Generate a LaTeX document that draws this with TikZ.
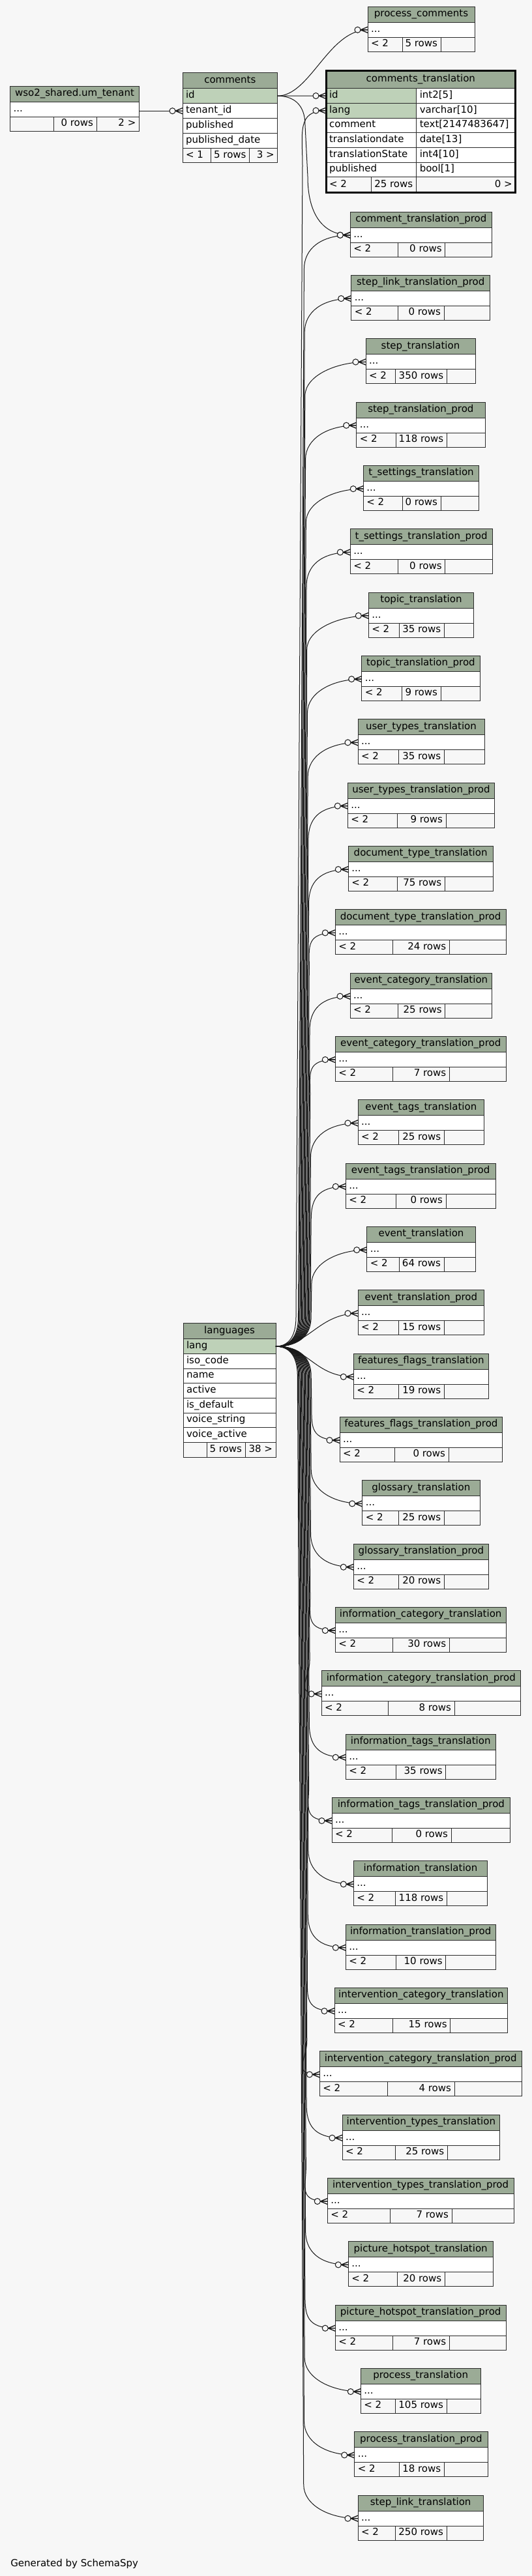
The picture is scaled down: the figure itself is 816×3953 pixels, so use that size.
\documentclass[tikz,border=0pt]{standalone}
\usepackage{fontspec}
\setmainfont{DejaVu Sans}
\usetikzlibrary{calc}
\definecolor{bgc}{HTML}{F7F7F7}
\definecolor{hdc}{HTML}{9BAB96}
\definecolor{kyc}{HTML}{BED1B8}
\definecolor{bdc}{HTML}{2B2B2B}
\tikzset{
  cell/.style={draw=bdc, line width=0.75pt, inner sep=0pt, outer sep=0pt, anchor=north west},
  txt/.style={inner xsep=3.6pt, inner ysep=0pt, text height=8pt, text depth=3pt},
  fk/.style={draw=black!90, line width=0.75pt},
  crowfoot/.pic={
    \draw[fk, fill=bgc] (-15.5,0) circle (3.4pt);
    \draw[fk, line width=1pt] (-11,0) -- (0,4.5) (-11,0) -- (0,-4.5) (-11,0) -- (0,0);
  }
}
% name, left, right, top, height, fill
\newcommand{\mybox}[6]{\node[cell, fill=#6, minimum width={(#3-#2)*0.75pt}, minimum height={(#5)*0.75pt}] (#1) at (#2,{#4}) {};}
% name, left, right, top, text
\newcommand{\myhead}[5]{\node[cell, fill=hdc, minimum width={(#3-#2)*0.75pt}, minimum height=18pt, text height=8pt, text depth=3pt] (#1) at (#2,{#4}) {#5};}
\newcommand{\tleft}[2]{\node[txt, anchor=west] (#1-t) at (#1.west) {#2};}
\newcommand{\tright}[2]{\node[txt, anchor=east] (#1-t) at (#1.east) {#2};}
% name, top, left, right, s1, s2, title, rows
\newcommand{\tblt}[8]{%
  \myhead{#1-h}{#3}{#4}{#2}{#7}
  \mybox{#1}{#3}{#4}{#2+24}{23}{white}
  \tleft{#1}{...}
  \mybox{#1-a}{#3}{#5}{#2+47}{22}{bgc}
  \mybox{#1-b}{#5}{#6}{#2+47}{22}{bgc}
  \mybox{#1-c}{#6}{#4}{#2+47}{22}{bgc}
  \tleft{#1-a}{< 2}
  \tright{#1-b}{#8}}
\newcommand{\tbl}[8]{%
  \pgfmathsetmacro\myTop{325.3+97.33*#2}%
  \tblt{#1}{\myTop}{#3}{#4}{#5}{#6}{#7}{#8}}
% comments_translation row: name, top, left text, right text, left fill
\newcommand{\ctrow}[5]{%
  \mybox{#1}{500}{638.7}{#2}{22.67}{#5}\tleft{#1}{#3}
  \mybox{#1-ty}{638.7}{790.7}{#2}{22.67}{white}\tleft{#1-ty}{#4}}
% single column row: name, left, right, top, height, text, fill
\newcommand{\srow}[7]{\mybox{#1}{#2}{#3}{#4}{#5}{#7}\tleft{#1}{#6}}
% long FK edge: src, tgt, trunk x near source, trunk x near target, sign, bend length at target
\newcommand{\fkl}[6]{%
  \coordinate (tk) at (#3,0);
  \coordinate (tq) at (#4,0);
  \draw[fk] (#1) .. controls ($(#1)!0.55!(#1 -| tk)$) and ($(#1 -| tk)+(0,{12*(#5)})$) .. ($(#1 -| tk)+(0,{45*(#5)})$)
     -- ($(#2 -| tq)+(0,{-1*(#5)*(#6)})$) .. controls ($(#2 -| tq)+(0,{-0.4*(#5)*(#6)})$) and ($(#2)+(-45,0)$) .. (#2);
  \pic at (#2) {crowfoot};}
% short FK edge
\newcommand{\fks}[2]{%
  \draw[fk] (#1) .. controls ($(#1)+(50,0)$) and ($(#2)+(-60,0)$) .. (#2);
  \pic at (#2) {crowfoot};}
\newcommand{\lgedge}[2]{%
  \pgfmathsetmacro\myDy{360.8+97.33*#2-2066}%
  \pgfmathsetmacro\mySg{(\myDy>0) ? 1 : -1}%
  \pgfmathsetmacro\myFr{abs(\myDy)/1900}%
  \pgfmathsetmacro\myTx{455+24*(1-\myFr)}%
  \pgfmathsetmacro\myTq{\myTx+10*\myFr}%
  \fkl{lg-lang.east}{#1.west}{\myTx}{\myTq}{\mySg}{52}}

\begin{document}
\begin{tikzpicture}[x=0.75pt, y=-0.75pt, every node/.style={font=\fontsize{11.25pt}{13pt}\selectfont, text=black}]
\useasboundingbox (0,0) rectangle (816,3953);
\fill[bgc] (0,0) rectangle (816,3953);

% wso2_shared.um_tenant
\myhead{w-h}{15.6}{213.4}{132.3}{wso2\_shared.um\_tenant}
\srow{w-row}{15.6}{213.4}{156.3}{23}{...}{white}
\mybox{w-fa}{15.6}{82.7}{179.3}{22}{bgc}
\mybox{w-fb}{82.7}{148}{179.3}{22}{bgc}
\mybox{w-fc}{148}{213.4}{179.3}{22}{bgc}
\tright{w-fb}{0 rows}
\tright{w-fc}{2 >}

% comments
\myhead{c-h}{280}{425.7}{111.7}{comments}
\srow{c-id}{280}{425.7}{135.7}{23}{id}{kyc}
\srow{c-ten}{280}{425.7}{158.7}{23}{tenant\_id}{white}
\srow{c-pub}{280}{425.7}{181.7}{23}{published}{white}
\srow{c-pd}{280}{425.7}{204.7}{23}{published\_date}{white}
\mybox{c-fa}{280}{323.7}{227.7}{22}{bgc}
\mybox{c-fb}{323.7}{382.6}{227.7}{22}{bgc}
\mybox{c-fc}{382.6}{425.7}{227.7}{22}{bgc}
\tleft{c-fa}{< 1}
\tright{c-fb}{5 rows}
\tright{c-fc}{3 >}

% process_comments
\tblt{pc}{10.3}{564}{728}{617}{676}{process\_comments}{5 rows}

% comments_translation
\node[cell, fill=hdc, minimum width={290.7*0.75pt}, minimum height={26.7*0.75pt}, text height=8pt, text depth=3pt] (ct-h) at (500,109) {comments\_translation};
\ctrow{ct-id}{135.7}{id}{int2[5]}{kyc}
\ctrow{ct-lang}{158.37}{lang}{varchar[10]}{kyc}
\ctrow{ct-com}{181.03}{comment}{text[2147483647]}{white}
\ctrow{ct-td}{203.7}{translationdate}{date[13]}{white}
\ctrow{ct-ts}{226.37}{translationState}{int4[10]}{white}
\ctrow{ct-pub}{249.03}{published}{bool[1]}{white}
\mybox{ct-fa}{500}{569}{271.7}{24}{bgc}
\mybox{ct-fb}{569}{638.3}{271.7}{24}{bgc}
\mybox{ct-fc}{638.3}{790.7}{271.7}{24}{bgc}
\tleft{ct-fa}{< 2}
\tright{ct-fb}{25 rows}
\tright{ct-fc}{0 >}
\node[draw=black, line width=2.25pt, inner sep=0pt, outer sep=0pt, anchor=north west, minimum width={290.7*0.75pt}, minimum height={186.7*0.75pt}] (ct) at (500,109) {};

% languages
\myhead{lg-h}{281}{423}{2030.7}{languages}
\srow{lg-lang}{281}{423}{2054.7}{22.7}{lang}{kyc}
\srow{lg-iso}{281}{423}{2077.4}{22.7}{iso\_code}{white}
\srow{lg-name}{281}{423}{2100.1}{22.7}{name}{white}
\srow{lg-act}{281}{423}{2122.8}{22.7}{active}{white}
\srow{lg-def}{281}{423}{2145.5}{22.7}{is\_default}{white}
\srow{lg-vs}{281}{423}{2168.2}{22.7}{voice\_string}{white}
\srow{lg-va}{281}{423}{2190.9}{22.7}{voice\_active}{white}
\mybox{lg-fa}{281}{317.7}{2213.6}{22.4}{bgc}
\mybox{lg-fb}{317.7}{376}{2213.6}{22.4}{bgc}
\mybox{lg-fc}{376}{423}{2213.6}{22.4}{bgc}
\tright{lg-fb}{5 rows}
\tright{lg-fc}{38 >}

% translation tables
\tbl{n0}{0}{537.3}{754.3}{610.3}{682.7}{comment\_translation\_prod}{0 rows}
\tbl{n1}{1}{538.7}{751.7}{610.3}{681}{step\_link\_translation\_prod}{0 rows}
\tbl{n2}{2}{561}{729}{606.7}{685.3}{step\_translation}{350 rows}
\tbl{n3}{3}{546.7}{744}{607}{685.3}{step\_translation\_prod}{118 rows}
\tbl{n4}{4}{557.3}{734.7}{617}{676}{t\_settings\_translation}{0 rows}
\tbl{n5}{5}{537.3}{755}{610.7}{682.7}{t\_settings\_translation\_prod}{0 rows}
\tbl{n6}{6}{565.3}{726.7}{612}{681.3}{topic\_translation}{35 rows}
\tbl{n7}{7}{554.7}{736}{616}{676}{topic\_translation\_prod}{9 rows}
\tbl{n8}{8}{549}{743}{611.7}{681.3}{user\_types\_translation}{35 rows}
\tbl{n9}{9}{533.3}{758.7}{609}{684}{user\_types\_translation\_prod}{9 rows}
\tbl{n10}{10}{534.3}{756}{609}{682.3}{document\_type\_translation}{75 rows}
\tbl{n11}{11}{514.3}{776}{602.7}{689.3}{document\_type\_translation\_prod}{24 rows}
\tbl{n12}{12}{537}{754.7}{610.7}{682.7}{event\_category\_translation}{25 rows}
\tbl{n13}{13}{514.3}{776}{602.7}{689.3}{event\_category\_translation\_prod}{7 rows}
\tbl{n14}{14}{549}{742.7}{611.7}{681.3}{event\_tags\_translation}{25 rows}
\tbl{n15}{15}{530.3}{760}{607.7}{684}{event\_tags\_translation\_prod}{0 rows}
\tbl{n16}{16}{562.7}{729.3}{612}{681}{event\_translation}{64 rows}
\tbl{n17}{17}{549}{742.7}{611.7}{681.3}{event\_translation\_prod}{15 rows}
\tbl{n18}{18}{542.3}{749.3}{611.7}{681.3}{features\_flags\_translation}{19 rows}
\tbl{n19}{19}{521}{770.7}{605}{688}{features\_flags\_translation\_prod}{0 rows}
\tbl{n20}{20}{555.7}{736}{611.7}{681.3}{glossary\_translation}{25 rows}
\tbl{n21}{21}{542.3}{749.3}{611.7}{681.3}{glossary\_translation\_prod}{20 rows}
\tbl{n22}{22}{514.3}{776}{602.7}{689.3}{information\_category\_translation}{30 rows}
\tbl{n23}{23}{493}{798.7}{595.7}{697}{information\_category\_translation\_prod}{8 rows}
\tbl{n24}{24}{530.3}{760}{607.7}{683.7}{information\_tags\_translation}{35 rows}
\tbl{n25}{25}{509}{782.7}{601}{692}{information\_tags\_translation\_prod}{0 rows}
\tbl{n26}{26}{542.3}{747.7}{606.7}{685.3}{information\_translation}{118 rows}
\tbl{n27}{27}{530.3}{760}{607.7}{683.7}{information\_translation\_prod}{10 rows}
\tbl{n28}{28}{513}{778.7}{602.3}{690.7}{intervention\_category\_translation}{15 rows}
\tbl{n29}{29}{490.3}{800}{594.3}{697}{intervention\_category\_translation\_prod}{4 rows}
\tbl{n30}{30}{525}{766.7}{606.3}{686.3}{intervention\_types\_translation}{25 rows}
\tbl{n31}{31}{502.3}{788}{598.3}{693}{intervention\_types\_translation\_prod}{7 rows}
\tbl{n32}{32}{534.3}{756}{609}{682.3}{picture\_hotspot\_translation}{20 rows}
\tbl{n33}{33}{514.3}{776}{602.7}{689.3}{picture\_hotspot\_translation\_prod}{7 rows}
\tbl{n34}{34}{553.3}{737}{606.7}{685}{process\_translation}{105 rows}
\tbl{n35}{35}{543.7}{748}{612}{681.3}{process\_translation\_prod}{18 rows}
\tbl{n36}{36}{549}{741.3}{606.7}{685}{step\_link\_translation}{250 rows}

% connectors
\draw[fk] (w-row.east |- c-ten.west) -- (c-ten.west); \pic at (c-ten.west) {crowfoot};
\fks{c-id.east}{pc.west}
\draw[fk] (c-id.east) -- (ct-id.west); \pic at (ct-id.west) {crowfoot};
\fkl{c-id.east}{n0.west}{468}{472}{1}{90}
\fkl{lg-lang.east}{ct-lang.west}{454}{464}{-1}{85}
\lgedge{n0}{0}
\lgedge{n1}{1}
\lgedge{n2}{2}
\lgedge{n3}{3}
\lgedge{n4}{4}
\lgedge{n5}{5}
\lgedge{n6}{6}
\lgedge{n7}{7}
\lgedge{n8}{8}
\lgedge{n9}{9}
\lgedge{n10}{10}
\lgedge{n11}{11}
\lgedge{n12}{12}
\lgedge{n13}{13}
\lgedge{n14}{14}
\lgedge{n15}{15}
\lgedge{n16}{16}
\fks{lg-lang.east}{n17.west}
\fks{lg-lang.east}{n18.west}
\lgedge{n19}{19}
\lgedge{n20}{20}
\lgedge{n21}{21}
\lgedge{n22}{22}
\lgedge{n23}{23}
\lgedge{n24}{24}
\lgedge{n25}{25}
\lgedge{n26}{26}
\lgedge{n27}{27}
\lgedge{n28}{28}
\lgedge{n29}{29}
\lgedge{n30}{30}
\lgedge{n31}{31}
\lgedge{n32}{32}
\lgedge{n33}{33}
\lgedge{n34}{34}
\lgedge{n35}{35}
\lgedge{n36}{36}

\node[anchor=base west, inner sep=0pt] (gen) at (16,3938) {Generated by SchemaSpy};
\end{tikzpicture}
\end{document}
